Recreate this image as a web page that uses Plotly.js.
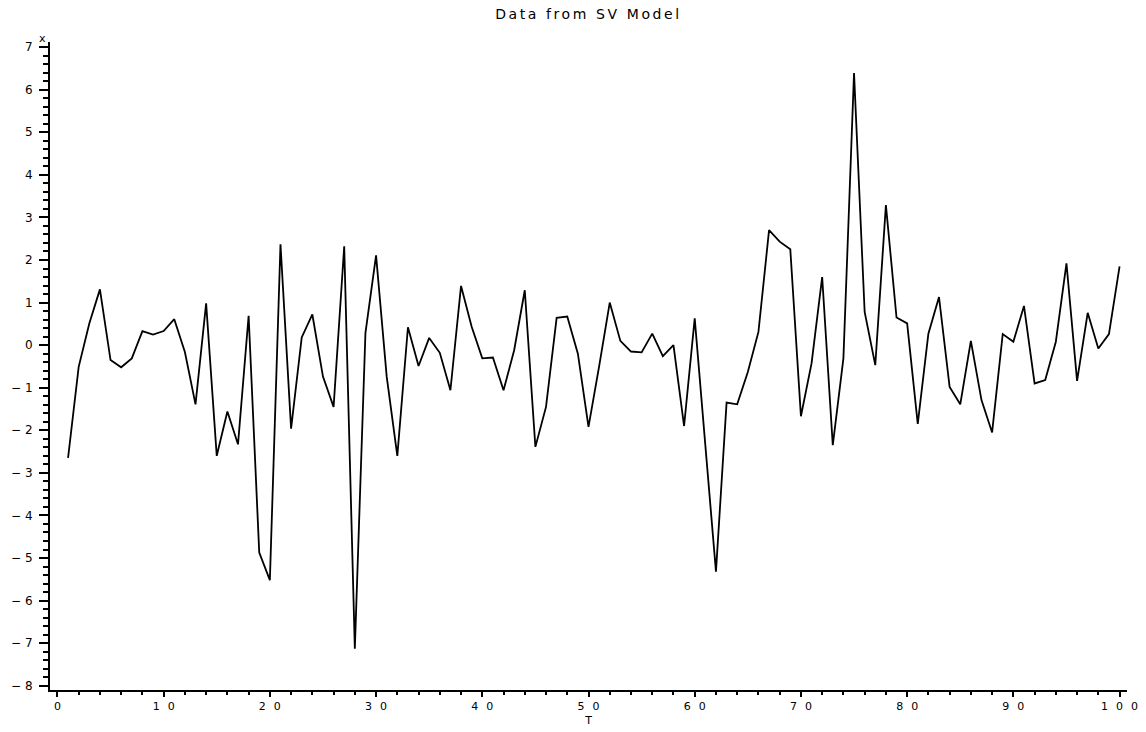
<!DOCTYPE html>
<html>
<head>
<meta charset="utf-8">
<script src="https://cdn.plot.ly/plotly-3.0.1.min.js"></script>
<style>
  html, body { margin: 0; padding: 0; background: #fff; }
  #chart { width: 1146px; height: 732px; }
  .xtick text { letter-spacing: 8px; }
  .gtitle { letter-spacing: 2.6px; }
</style>
</head>
<body>
<div id="chart"></div>
<script>
const chartTitle = "Data from SV Model";
const xTitle = "T";
const yTitle = "x";

const T = [];
for (let i = 1; i <= 100; i++) T.push(i);

const xValues = [
  -2.65, -0.51, 0.51, 1.31, -0.35, -0.52, -0.31, 0.33, 0.25, 0.33,
   0.61, -0.16, -1.39, 0.98, -2.60, -1.56, -2.33, 0.69, -4.87, -5.52,
   2.37, -1.96, 0.18, 0.72, -0.74, -1.45, 2.32, -7.13, 0.29, 2.11,
  -0.74, -2.60, 0.42, -0.49, 0.17, -0.18, -1.06, 1.39, 0.43, -0.31,
  -0.29, -1.06, -0.12, 1.29, -2.39, -1.45, 0.64, 0.67, -0.20, -1.92,
  -0.50, 1.00, 0.10, -0.15, -0.17, 0.27, -0.26, 0.00, -1.90, 0.63,
  -2.35, -5.32, -1.35, -1.39, -0.63, 0.31, 2.70, 2.43, 2.25, -1.67,
  -0.43, 1.60, -2.35, -0.31, 6.39, 0.78, -0.47, 3.29, 0.65, 0.51,
  -1.85, 0.27, 1.13, -0.98, -1.39, 0.10, -1.29, -2.05, 0.26, 0.08,
   0.92, -0.90, -0.82, 0.08, 1.92, -0.84, 0.76, -0.08, 0.26, 1.85
];

const xTickVals = [0, 10, 20, 30, 40, 50, 60, 70, 80, 90, 100];
const yTickVals = [-8, -7, -6, -5, -4, -3, -2, -1, 0, 1, 2, 3, 4, 5, 6, 7];
const yTickText = ["\u2212 8", "\u2212 7", "\u2212 6", "\u2212 5", "\u2212 4", "\u2212 3", "\u2212 2", "\u2212 1",
                   "0", "1", "2", "3", "4", "5", "6", "7"];

const fontFamily = "DejaVu Sans, sans-serif";

const trace = {
  x: T,
  y: xValues,
  type: "scatter",
  mode: "lines",
  line: { color: "#000", width: 1.8 },
  hoverinfo: "x+y"
};

const layout = {
  width: 1146,
  height: 732,
  margin: { l: 50, r: 19, t: 42, b: 42, pad: 0 },
  paper_bgcolor: "#fff",
  plot_bgcolor: "#fff",
  showlegend: false,
  font: { family: fontFamily, color: "#000", size: 11 },
  title: {
    text: chartTitle,
    font: { family: fontFamily, size: 14, color: "#000" },
    x: 0.5, xref: "paper", xanchor: "center",
    y: 0.981, yref: "container", yanchor: "middle"
  },
  xaxis: {
    range: [-0.7, 100.7],
    showgrid: false,
    zeroline: false,
    showline: true,
    linecolor: "#000",
    linewidth: 2,
    ticks: "outside",
    ticklen: 5,
    tickwidth: 2,
    tickcolor: "#000",
    tickvals: xTickVals,
    ticklabelshift: 4,
    ticklabeloverflow: "allow",
    tickfont: { family: fontFamily, size: 11, color: "#000" },
    minor: { dtick: 2, ticks: "outside", ticklen: 3, tickwidth: 2, tickcolor: "#000", showgrid: false },
    title: { text: xTitle, font: { family: fontFamily, size: 11, color: "#000" }, standoff: 4 },
    automargin: false
  },
  yaxis: {
    range: [-8.1, 7.12],
    showgrid: false,
    zeroline: false,
    showline: true,
    linecolor: "#000",
    linewidth: 2,
    ticks: "outside",
    ticklen: 9,
    tickwidth: 2,
    tickcolor: "#000",
    tickvals: yTickVals,
    ticktext: yTickText,
    ticklabelstandoff: 4,
    ticklabeloverflow: "allow",
    tickfont: { family: fontFamily, size: 12, color: "#000" },
    minor: { dtick: 0.2, ticks: "outside", ticklen: 5, tickwidth: 2, tickcolor: "#000", showgrid: false },
    automargin: false
  },
  annotations: [{
    text: yTitle,
    xref: "paper", yref: "paper",
    x: -0.0074, y: 1.006,
    xanchor: "center", yanchor: "middle",
    showarrow: false,
    font: { family: fontFamily, size: 11, color: "#000" }
  }]
};

Plotly.newPlot("chart", [trace], layout, { displayModeBar: false, staticPlot: true });
</script>
</body>
</html>
